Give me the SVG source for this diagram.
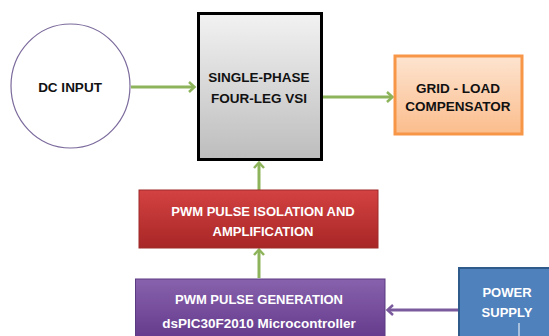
<svg xmlns="http://www.w3.org/2000/svg" width="549" height="336" viewBox="0 0 549 336">
<defs>
<linearGradient id="gGray" x1="0" y1="0" x2="0" y2="1"><stop offset="0" stop-color="#f2f2f2"/><stop offset="1" stop-color="#bdbdbd"/></linearGradient>
<linearGradient id="gOrange" x1="0" y1="0" x2="0" y2="1"><stop offset="0" stop-color="#fde4d0"/><stop offset="1" stop-color="#fbbd8c"/></linearGradient>
<linearGradient id="gRed" x1="0" y1="0" x2="0" y2="1"><stop offset="0" stop-color="#d44242"/><stop offset="1" stop-color="#a82626"/></linearGradient>
<linearGradient id="gPurple" x1="0" y1="0" x2="0" y2="1"><stop offset="0" stop-color="#8862ad"/><stop offset="1" stop-color="#643a8c"/></linearGradient>
<marker id="aG" markerWidth="10" markerHeight="12" refX="7" refY="6" orient="auto" markerUnits="userSpaceOnUse"><path d="M2,1 L7.5,6 L2,11" fill="none" stroke="#8db45a" stroke-width="2.5"/></marker>
<marker id="aP" markerWidth="10" markerHeight="12" refX="7" refY="6" orient="auto" markerUnits="userSpaceOnUse"><path d="M2,1 L7.5,6 L2,11" fill="none" stroke="#7a5a9c" stroke-width="2.5"/></marker>
</defs>
<style>
text{font-family:"Liberation Sans",Arial,sans-serif;font-weight:bold;text-anchor:middle;font-size:13.5px}
.dk{fill:#111}
.wt{fill:#fff}
.cg{stroke:#8db45a;stroke-width:3;fill:none}
</style>
<rect width="549" height="336" fill="#fff"/>
<g id="connectors">
<line class="cg" x1="131" y1="87" x2="194" y2="87" marker-end="url(#aG)"/>
<line class="cg" x1="323" y1="97" x2="392" y2="97" marker-end="url(#aG)"/>
<line class="cg" x1="259" y1="190" x2="259" y2="163" marker-end="url(#aG)"/>
<line class="cg" x1="259" y1="278" x2="259" y2="250" marker-end="url(#aG)"/>
<line x1="458" y1="310" x2="388" y2="310" stroke="#7a5a9c" stroke-width="3" marker-end="url(#aP)"/>
</g>
<g id="dc-input">
<ellipse cx="70.5" cy="86" rx="59.5" ry="62" fill="#fff" stroke="#7b6a9c" stroke-width="1.2"/>
<text class="dk" x="70" y="92">DC INPUT</text>
</g>
<g id="vsi">
<rect x="198.5" y="13.5" width="123" height="146" fill="url(#gGray)" stroke="#000" stroke-width="3"/>
<text class="dk" x="259" y="82">SINGLE-PHASE</text>
<text class="dk" x="259" y="103">FOUR-LEG VSI</text>
</g>
<g id="grid">
<rect x="395" y="56" width="127" height="78" fill="url(#gOrange)" stroke="#f79646" stroke-width="3"/>
<text class="dk" x="458" y="93">GRID - LOAD</text>
<text class="dk" x="458" y="111">COMPENSATOR</text>
</g>
<g id="isolation">
<rect x="139" y="190" width="239" height="58" fill="url(#gRed)" stroke="#9e2a2a" stroke-width="1"/>
<text class="wt" x="263" y="216" style="font-size:13px">PWM PULSE ISOLATION AND</text>
<text class="wt" x="263" y="236" style="font-size:13px">AMPLIFICATION</text>
</g>
<g id="pwm-gen">
<rect x="135.5" y="279" width="249.5" height="60" fill="url(#gPurple)" stroke="#5a3a80" stroke-width="1"/>
<text class="wt" x="259" y="304" style="font-size:13px">PWM PULSE GENERATION</text>
<text class="wt" x="259" y="328">dsPIC30F2010 Microcontroller</text>
</g>
<g id="power-supply">
<rect x="459" y="268" width="95" height="72" fill="#4f81bd" stroke="#2f5a8c" stroke-width="2"/>
<text class="wt" x="507" y="297" style="font-size:13px">POWER</text>
<text class="wt" x="507" y="317" style="font-size:13px">SUPPLY</text>
<line x1="519" y1="323" x2="519" y2="336" stroke="#fff" stroke-width="1"/>
</g>
</svg>
